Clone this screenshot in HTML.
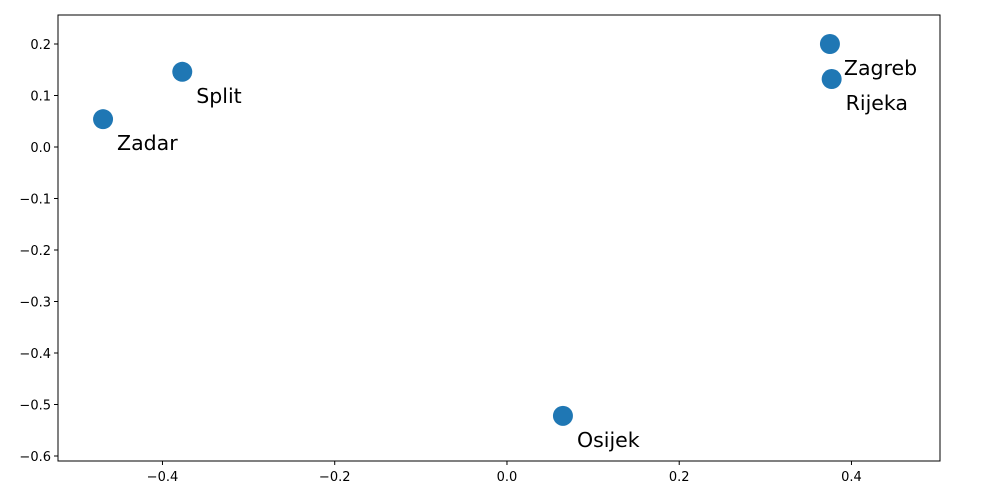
<!DOCTYPE html>
<html><head><meta charset="utf-8"><style>
html,body{margin:0;padding:0;background:#fff;}
svg{display:block;font-family:"DejaVu Sans","Liberation Sans",sans-serif;}
</style></head><body>
<svg id="chart" width="1000" height="500"></svg>
<script>
const cities = ["Zagreb","Rijeka","Split","Zadar","Osijek"];
const xValues = [0.375, 0.377, -0.377, -0.469, 0.065];
const yValues = [0.200, 0.132, 0.146, 0.054, -0.522];
const xTicks = [-0.4, -0.2, 0.0, 0.2, 0.4];
const xTickLabels = ["−0.4","−0.2","0.0","0.2","0.4"];
const yTicks = [0.2,0.1,0.0,-0.1,-0.2,-0.3,-0.4,-0.5,-0.6];
const yTickLabels = ["0.2","0.1","0.0","−0.1","−0.2","−0.3","−0.4","−0.5","−0.6"];

const L=58,R=940,T=15,B=461;
const xMin=-0.5213,xMax=0.5028,yMin=-0.6097,yMax=0.2563;
const sx=v=>L+(v-xMin)/(xMax-xMin)*(R-L);
const sy=v=>B-(v-yMin)/(yMax-yMin)*(B-T);
const NS="http://www.w3.org/2000/svg";
const svg=document.getElementById("chart");
function mk(tag,attrs,parent){const e=document.createElementNS(NS,tag);for(const k in attrs)e.setAttribute(k,attrs[k]);(parent||svg).appendChild(e);return e;}

const frame=mk("rect",{x:L,y:T,width:R-L,height:B-T,fill:"none",stroke:"#000","stroke-width":1});



xTicks.forEach((v,i)=>{
  const x=sx(v);
  const t=mk("line",{x1:x,x2:x,y1:B,y2:B+4,stroke:"#000"});
  
  
  const l=mk("text",{x:x,y:B+20,"text-anchor":"middle","font-size":13,fill:"#000"});
  l.textContent=xTickLabels[i];
  
  
});
yTicks.forEach((v,i)=>{
  const y=sy(v);
  const t=mk("line",{x1:L-4,x2:L,y1:y,y2:y,stroke:"#000"});
  
  
  const l=mk("text",{x:L-7,y:y+5,"text-anchor":"end","font-size":13,fill:"#000"});
  l.textContent=yTickLabels[i];
  
  
});
cities.forEach((c,i)=>{
  const x=sx(xValues[i]),y=sy(yValues[i]);
  const p=mk("circle",{cx:x,cy:y,r:10,fill:"#1f77b4"});
  
  
  const l=mk("text",{x:x+14,y:y+31,"font-size":20.5,fill:"#000"});
  l.textContent=c;
  
  
});
</script>
</body></html>
